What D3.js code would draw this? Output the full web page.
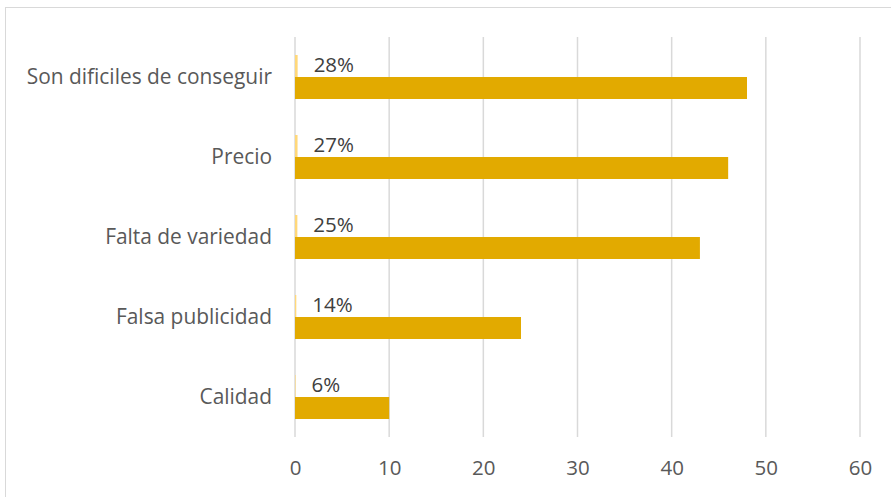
<!DOCTYPE html>
<html><head><meta charset="utf-8">
<script src="https://cdn.jsdelivr.net/npm/d3@7"></script>
<style>body{margin:0;background:#fff;} text{font-family:"Open Sans",sans-serif;}</style>
</head><body>
<svg id="c" width="891" height="497"></svg>
<script>
const categories = ["Son dificiles de conseguir","Precio","Falta de variedad","Falsa publicidad","Calidad"];
const percentValues = [0.28,0.27,0.25,0.14,0.06];
const percentLabels = ["28%","27%","25%","14%","6%"];
const countValues = [48,46,43,24,10];
const xTicks = [0,10,20,30,40,50,60];

const FONT = "'Open Sans',sans-serif";
const FS = 20.5;
const svg = d3.select("#c");
svg.append("rect").attr("x",5.5).attr("y",7.5).attr("width",900).attr("height",500)
  .attr("fill","#fff").attr("stroke","#d9d9d9");

const m = {left:295, right:860, top:37, bottom:437};
const x = d3.scaleLinear().domain([0,60]).range([m.left,m.right]);
const y = d3.scaleBand().domain(categories).range([m.top,m.bottom]).paddingInner(0).paddingOuter(0);
const sub = d3.scaleBand().domain(["pct","cnt"]).range([0,y.bandwidth()]).paddingInner(0).paddingOuter(0.818);

svg.append("g").selectAll("line").data(xTicks).join("line")
  .attr("x1",d=>x(d)).attr("x2",d=>x(d)).attr("y1",m.top).attr("y2",m.bottom)
  .attr("stroke","#d9d9d9").attr("stroke-width",1.5);

const axis = d3.axisBottom(x).tickValues(xTicks).tickSize(0).tickPadding(0);
const ag = svg.append("g").attr("transform",`translate(0,${m.bottom})`).call(axis);
ag.select(".domain").remove();
ag.selectAll("text").attr("dy",null).attr("y",37.5).attr("font-size",FS).attr("fill","#595959")
  .style("font-family",FONT);

const yAxis = d3.axisLeft(y).tickSize(0).tickPadding(0);
const yg = svg.append("g").attr("transform",`translate(272,0)`).call(yAxis);
yg.select(".domain").remove();
yg.selectAll("text").attr("font-size",20.9).attr("fill","#595959")
  .style("font-family",FONT);

svg.append("g").selectAll("rect").data(categories).join("rect")
  .attr("x",x(0)).attr("y",(d)=>y(d)+sub("pct"))
  .attr("width",(d,i)=>x(percentValues[i])-x(0)).attr("height",sub.bandwidth())
  .attr("fill","#ffd87a");
svg.append("g").selectAll("rect").data(categories).join("rect")
  .attr("x",x(0)).attr("y",(d)=>y(d)+sub("cnt"))
  .attr("width",(d,i)=>x(countValues[i])-x(0)).attr("height",sub.bandwidth())
  .attr("fill","#e2aa00");
svg.append("g").selectAll("text").data(categories).join("text")
  .attr("x",(d,i)=>x(percentValues[i])+16).attr("y",(d)=>y(d)+sub("pct")+sub.bandwidth()/2-1)
  .attr("dy","0.35em").attr("font-size",FS).attr("fill","#404040")
  .style("font-family",FONT)
  .text((d,i)=>percentLabels[i]);
</script>
</body></html>
